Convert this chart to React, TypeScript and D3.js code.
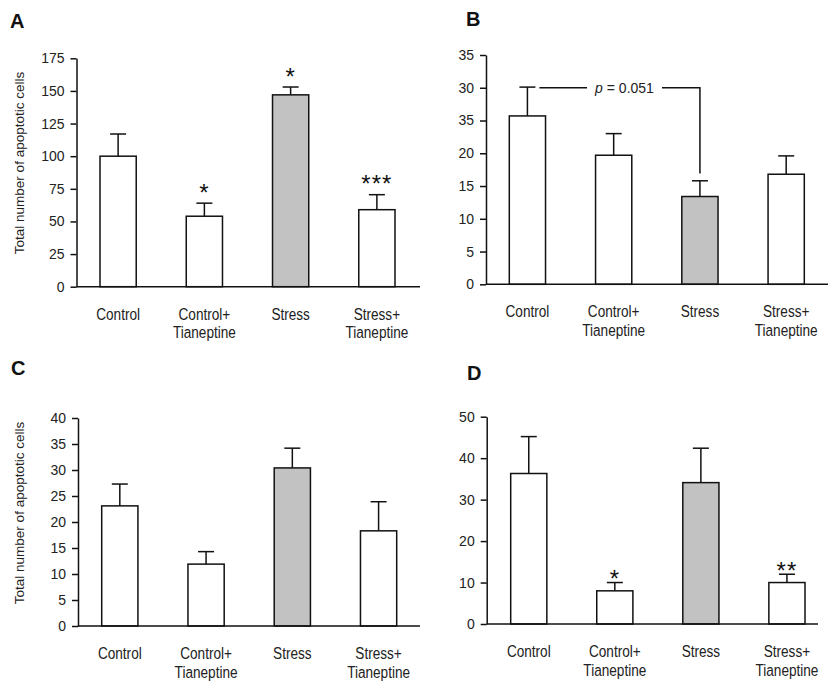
import React, { useEffect, useRef } from "react";
import * as d3 from "d3";

const W = 828;
const H = 683;

// groups on the x axis (line breaks as arrays)
const categories = [["Control"], ["Control+", "Tianeptine"], ["Stress"], ["Stress+", "Tianeptine"]];
const fills = ["#fff", "#fff", "#c2c2c2", "#fff"];

// A
const meanA = [100, 54, 147, 59];
const errA = [17, 10, 6, 11.5];
const sigA = ["", "*", "*", "***"];
const ticksA = [0, 25, 50, 75, 100, 125, 150, 175];

// B
const meanB = [25.7, 19.7, 13.4, 16.8];
const errB = [4.4, 3.3, 2.4, 2.8];
const sigB = ["", "", "", ""];
const ticksB = [0, 5, 10, 15, 20, 25, 30, 35];
const tickLabelsB = ["0", "5", "10", "15", "20", "35", "30", "35"];
const bracketB = { level: 30, drop: 16.9, text: "0.051" };

// C
const meanC = [23.1, 11.9, 30.4, 18.3];
const errC = [4.2, 2.4, 3.8, 5.6];
const sigC = ["", "", "", ""];
const ticksC = [0, 5, 10, 15, 20, 25, 30, 35, 40];

// D
const meanD = [36.3, 8.0, 34.1, 10.0];
const errD = [8.9, 2.0, 8.3, 2.0];
const sigD = ["", "*", "", "**"];
const ticksD = [0, 10, 20, 30, 40, 50];

const yTitle = "Total number of apoptotic cells";

const panels = [
  { id: "A", mean: meanA, err: errA, sig: sigA, ticks: ticksA, labels: ticksA.map(String), title: true,
    ax: 76.5, y0: 286.7, yTop: 58.3, x0: 100, x1: 395, xEnd: 420, lx: 10, ly: 28, ty: 163, sigGap: 16 },
  { id: "B", mean: meanB, err: errB, sig: sigB, ticks: ticksB, labels: tickLabelsB, title: false,
    ax: 486, y0: 284.3, yTop: 55, x0: 509.3, x1: 804.3, xEnd: 828, lx: 466, ly: 26, ty: 0, sigGap: 16 },
  { id: "C", mean: meanC, err: errC, sig: sigC, ticks: ticksC, labels: ticksC.map(String), title: true,
    ax: 78, y0: 626, yTop: 418, x0: 101.7, x1: 396.7, xEnd: 420, lx: 11, ly: 375, ty: 513, sigGap: 16 },
  { id: "D", mean: meanD, err: errD, sig: sigD, ticks: ticksD, labels: ticksD.map(String), title: false,
    ax: 486.7, y0: 624, yTop: 416.7, x0: 510.7, x1: 805, xEnd: 818, lx: 467, ly: 380, ty: 0, sigGap: 9 },
];

const tickFont = "'Liberation Sans', Arial, sans-serif";

const App = () => {
  const ref = useRef<SVGSVGElement>(null);

  useEffect(() => {
    const svg = d3.select(ref.current);
    svg.selectAll("*").remove();

    panels.forEach(p => {
      const g = svg.append("g");
      const y = d3.scaleLinear().domain([0, p.ticks[p.ticks.length - 1]]).range([p.y0, p.yTop]);
      const x = d3.scaleBand<number>().domain(d3.range(4)).range([p.x0, p.x1]).paddingInner(0.58).paddingOuter(0);
      const bw = x.bandwidth();
      const cx = (i: number) => (x(i) as number) + bw / 2;

      // bars
      g.selectAll("rect.bar")
        .data(p.mean)
        .join("rect")
        .attr("x", (d, i) => x(i) as number)
        .attr("y", d => y(d))
        .attr("width", bw)
        .attr("height", d => p.y0 - y(d))
        .attr("fill", (d, i) => fills[i])
        .attr("stroke", "#111")
        .attr("stroke-width", 1.5);

      // error bars + significance marks
      p.mean.forEach((m, i) => {
        const top = y(m + p.err[i]);
        g.append("line").attr("x1", cx(i)).attr("x2", cx(i)).attr("y1", y(m)).attr("y2", top)
          .attr("stroke", "#111").attr("stroke-width", 1.5);
        g.append("line").attr("x1", cx(i) - 8).attr("x2", cx(i) + 8).attr("y1", top).attr("y2", top)
          .attr("stroke", "#111").attr("stroke-width", 1.5);
        if (p.sig[i]) {
          g.append("text").attr("x", cx(i)).attr("y", top - p.sigGap + 13.5)
            .attr("text-anchor", "middle").attr("font-family", tickFont)
            .attr("font-size", 24).attr("letter-spacing", 1).attr("fill", "#111")
            .text(p.sig[i]);
        }
      });

      // y axis
      const axis = g.append("g")
        .attr("transform", `translate(${p.ax},0)`)
        .call(
          d3.axisLeft(y)
            .tickValues(p.ticks)
            .tickFormat((d, i) => p.labels[i])
            .tickSize(6)
            .tickSizeOuter(0)
            .tickPadding(6)
        );
      axis.selectAll("path, line").attr("stroke", "#111").attr("stroke-width", 1.5);
      axis.selectAll("text").attr("font-size", 14).attr("font-family", tickFont).attr("fill", "#222");

      // x axis
      g.append("line").attr("x1", p.ax).attr("x2", p.xEnd).attr("y1", p.y0).attr("y2", p.y0)
        .attr("stroke", "#111").attr("stroke-width", 1.5);

      // category labels (condensed look)
      categories.forEach((lines, i) => {
        lines.forEach((t, k) => {
          g.append("text")
            .attr("transform", `translate(${cx(i)},${p.y0 + 33 + k * 18.5}) scale(0.8,1)`)
            .attr("text-anchor", "middle").attr("font-family", tickFont)
            .attr("font-size", 17).attr("fill", "#222").text(t);
        });
      });

      // panel letter
      g.append("text").attr("x", p.lx).attr("y", p.ly)
        .attr("font-family", tickFont).attr("font-weight", "bold").attr("font-size", 20)
        .attr("fill", "#111").text(p.id);

      if (p.title) {
        g.append("text")
          .attr("transform", `translate(24,${p.ty}) rotate(-90)`)
          .attr("text-anchor", "middle").attr("font-family", tickFont)
          .attr("font-size", 13.5).attr("fill", "#222").text(yTitle);
      }

      if (p.id === "B") {
        const ly = y(bracketB.level);
        const sx = cx(2);
        g.append("path")
          .attr("d", `M${cx(0) + 12},${ly}H587M662,${ly}H${sx}V${y(bracketB.drop)}`)
          .attr("fill", "none").attr("stroke", "#111").attr("stroke-width", 1.5);
        const t = g.append("text").attr("x", 624.5).attr("y", ly + 5)
          .attr("text-anchor", "middle").attr("font-family", tickFont).attr("font-size", 14).attr("fill", "#222");
        t.append("tspan").attr("font-style", "italic").text("p");
        t.append("tspan").text(" = " + bracketB.text);
      }
    });
  }, []);

  return (
    <svg
      ref={ref}
      width={W}
      height={H}
      viewBox={`0 0 ${W} ${H}`}
      style={{ position: "absolute", left: 0, top: 0, background: "#fff" }}
    ></svg>
  );
};

export default App;
